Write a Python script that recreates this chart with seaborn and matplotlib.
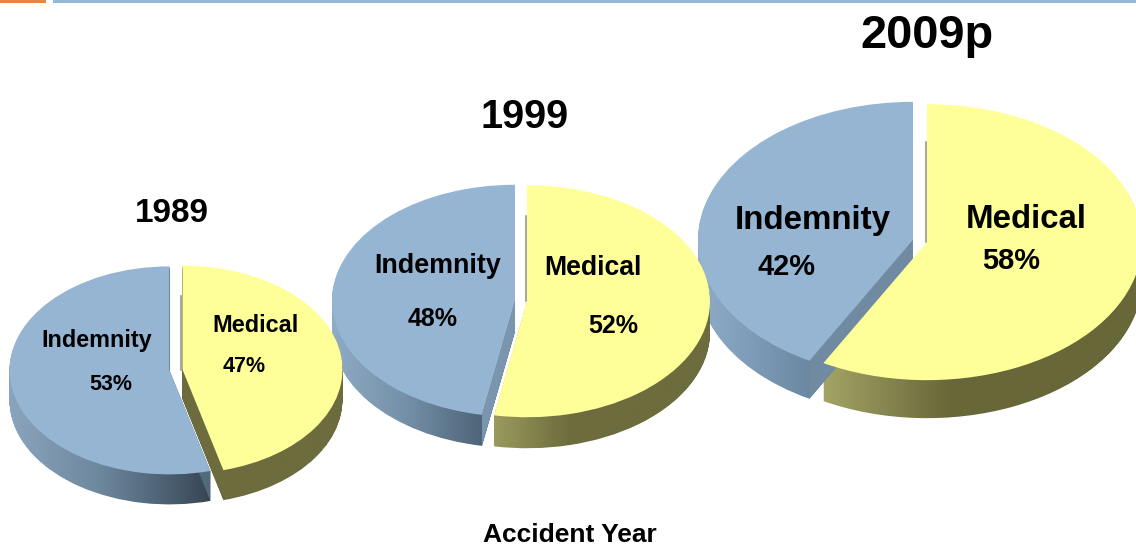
import numpy as np
import matplotlib
matplotlib.use("Agg")
import matplotlib.pyplot as plt
from matplotlib.colors import to_rgb
from matplotlib.path import Path
from matplotlib.patches import Rectangle
import seaborn as sns

# chart data
years = ["1989", "1999", "2009p"]
medical = [47, 52, 58]
indemnity = [53, 48, 42]
x_label = "Accident Year"

W, H = 1136, 546

# pie layout in pixels: centre x, centre y, rx, ry, depth, half gap
layout = [(176, 370, 160, 104, 30, 6.5),
          (521, 301, 183, 116, 31, 6),
          (920, 241, 215, 138, 38, 7)]
# the original's perspective pulls the lower cut a few degrees off true
cut_skew = [4, -3.2, 0]

# side wall shading: (pixel x, colour) stops
indem_walls = [[(8, "#8aa5bd"), (100, "#6d879d"), (180, "#45586a"), (210, "#384553")],
               [(331, "#8fabc5"), (400, "#7793ab"), (480, "#4f6579")],
               [(698, "#8fadc9"), (808, "#6b88a3")]]
med_walls = [[(180, "#6c6c3e"), (350, "#6c6c3e")],
             [(493, "#9b9b5e"), (570, "#6c6c3e")],
             [(825, "#a3a365"), (950, "#676739")]]
inner_walls = ["#55697c", "#7a96ae", "#6f8aa1"]

# text: label, x, y, size
titles = [(172, 214, 24), (525, 117, 28.5), (927, 36, 33.8)]
labels = [("Indemnity", 97, 340, 16.8), ("53%", 111, 385, 15.5),
          ("Medical", 255, 326, 16.9), ("47%", 244, 367, 15.5),
          ("Indemnity", 438, 266, 19.4), ("48%", 433, 319, 18),
          ("Medical", 593, 268, 19.2), ("52%", 613, 326, 18),
          ("Indemnity", 813, 220, 23.9), ("42%", 787, 267, 20.9),
          ("Medical", 1026, 220, 23.8), ("58%", 1011, 261, 20.9)]

sns.set_theme(style="white")
plt.rcParams["font.family"] = ["Liberation Sans", "DejaVu Sans"]
face_colors = sns.color_palette(["#ffff99", "#95b5d3"])


def wall_image(stops, x0, x1):
    xs = np.linspace(x0, x1, 512)
    px = [s[0] for s in stops]
    rgb = np.array([to_rgb(s[1]) for s in stops])
    row = np.stack([np.interp(xs, px, rgb[:, i]) for i in range(3)], axis=1)
    return row[None, :, :]


fig = plt.figure(figsize=(W / 100, H / 100), dpi=100, facecolor="white")

PAD = 1.3
for i, (cx, cy, rx, ry, depth, gap) in enumerate(layout):
    left = cx - PAD * rx
    bottom = H - (cy + PAD * ry + depth)
    height = 2 * PAD * ry + depth
    ax = fig.add_axes([left / W, bottom / H, 2 * PAD * rx / W, height / H], zorder=5 - i)
    d = depth / ry

    shares = [medical[i], indemnity[i]]
    mid = np.radians(90 - 1.8 * medical[i])
    e = gap / rx / abs(np.cos(mid))
    wedges, _ = ax.pie(shares, colors=face_colors, explode=[e, e], startangle=90,
                       counterclock=False, radius=1, wedgeprops={"linewidth": 0})
    wedges[0].set_theta1(wedges[0].theta1 + cut_skew[i])
    wedges[1].set_theta2(wedges[1].theta2 + cut_skew[i])
    for w in wedges:
        w.set_zorder(4)

    ymin, ymax = -PAD - d, PAD
    # extruded side of each slice, shaded by a gradient clipped to the slice stack
    for w, stops in zip(wedges, [med_walls[i], indem_walls[i]]):
        base = w.get_path()
        shifted = [Path(base.vertices + [0, -d * k / depth], base.codes)
                   for k in range(1, depth + 1)]
        stack = Path.make_compound_path(*shifted)
        im = ax.imshow(wall_image(stops, left, left + 2 * PAD * rx),
                       extent=(-PAD, PAD, ymin, ymax), aspect="auto", zorder=1)
        im.set_clip_path(stack, ax.transData)

    # cut face of the indemnity slice
    w = wedges[1]
    c = np.array(w.center)
    t = np.radians(w.theta2)
    tip = c + [np.cos(t), np.sin(t)]
    ax.fill([c[0], tip[0], tip[0], c[0]],
            [c[1], tip[1], tip[1] - d, c[1] - d],
            color=inner_walls[i], lw=0, zorder=2)

    # thin shadow along the medical slice's straight edge
    mc = wedges[0].center
    ax.plot([mc[0] - 1.5 / rx] * 2, [mc[1], mc[1] + 1 - d], color="#a8a8a0", lw=1.5, zorder=2)

    ax.set_xlim(-PAD, PAD)
    ax.set_ylim(ymin, ymax)
    ax.set_aspect("auto")
    ax.axis("off")

# overlay for text and the header strip
top = fig.add_axes([0, 0, 1, 1], zorder=10)
top.set_xlim(0, W)
top.set_ylim(H, 0)
top.axis("off")
top.add_patch(Rectangle((0, 0), 46, 3, color="#e48545", lw=0))
top.add_patch(Rectangle((53, 0), W - 53, 3, color="#95b8d4", lw=0))

for year, (x, y, size) in zip(years, titles):
    top.text(x, y, year, ha="center", va="center", fontsize=size, fontweight="bold", color="black")
for text, x, y, size in labels:
    top.text(x, y, text, ha="center", va="center", fontsize=size, fontweight="bold", color="black")
top.text(570, 535, x_label, ha="center", va="center", fontsize=19, fontweight="bold", color="black")

fig.savefig("out.png", dpi=100)
